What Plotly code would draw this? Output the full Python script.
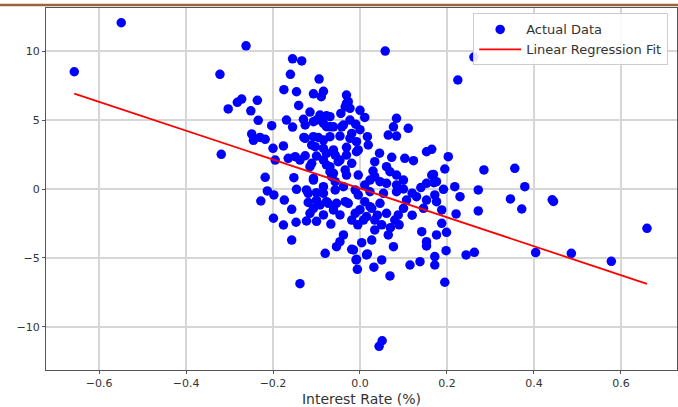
import plotly.graph_objects as go
import numpy as np

# Scatter data (Interest Rate %, response)
x_vals = [-0.657, -0.549, -0.322, -0.319, -0.303, -0.282, -0.272, -0.262, -0.251, -0.249, -0.245, -0.236, -0.234, -0.23, -0.228,
          -0.218, -0.218, -0.213, -0.203, -0.2, -0.199, -0.198, -0.195, -0.176, -0.176, -0.175, -0.174, -0.169, -0.165, -0.16,
          -0.157, -0.157, -0.152, -0.155, -0.155, -0.149, -0.147, -0.146, -0.146, -0.141, -0.138, -0.138, -0.134, -0.13, -0.129,
          -0.126, -0.126, -0.126, -0.123, -0.123, -0.119, -0.119, -0.115, -0.115, -0.115, -0.111, -0.111, -0.107, -0.107, -0.107,
          -0.107, -0.107, -0.107, -0.103, -0.1, -0.1, -0.1, -0.1, -0.1, -0.096, -0.094, -0.092, -0.092, -0.089, -0.084,
          -0.084, -0.084, -0.084, -0.084, -0.084, -0.084, -0.084, -0.08, -0.077, -0.077, -0.077, -0.077, -0.077, -0.073, -0.069,
          -0.069, -0.069, -0.069, -0.069, -0.067, -0.065, -0.061, -0.061, -0.061, -0.061, -0.057, -0.057, -0.057, -0.054, -0.054,
          -0.05, -0.046, -0.046, -0.046, -0.046, -0.044, -0.042, -0.038, -0.038, -0.038, -0.034, -0.034, -0.034, -0.031, -0.031,
          -0.031, -0.031, -0.031, -0.027, -0.027, -0.023, -0.023, -0.023, -0.019, -0.019, -0.019, -0.019, -0.015, -0.011, -0.011,
          -0.009, -0.008, -0.008, -0.008, -0.006, -0.004, -0.004, -0.004, 0.004, 0.008, 0.011, 0.011, 0.011, 0.015, 0.017,
          0.017, 0.019, 0.023, 0.023, 0.023, 0.027, 0.027, 0.032, 0.034, 0.034, 0.034, 0.034, 0.044, 0.046, 0.046,
          0.05, 0.051, 0.054, 0.058, 0.061, 0.061, 0.061, 0.065, 0.065, 0.069, 0.069, 0.073, 0.077, 0.077, 0.08,
          0.084, 0.084, 0.084, 0.084, 0.084, 0.088, 0.1, 0.103, 0.107, 0.111, 0.115, 0.123, 0.13, 0.138, 0.142,
          0.146, 0.153, 0.153, 0.153, 0.153, 0.153, 0.165, 0.165, 0.169, 0.17, 0.172, 0.172, 0.172, 0.176, 0.176,
          0.176, 0.188, 0.188, 0.192, 0.195, 0.195, 0.198, 0.199, 0.203, 0.218, 0.221, 0.225, 0.23, 0.244, 0.262,
          0.263, 0.272, 0.272, 0.285, 0.346, 0.356, 0.372, 0.379, 0.404, 0.442, 0.445, 0.486, 0.578, 0.66,
          0.0, 0.015, -0.005, 0.04, 0.05, 0.07, 0.09, 0.1, 0.12, 0.12, 0.14, 0.1, 0.03, 0.045, 0.0, -0.01, 0.0]
y_vals = [8.5, 12.05, 8.31, 2.51, 5.8, 6.28, 6.52, 10.38, 5.67, 3.99, 3.53, 6.43, 4.98, 3.74, -0.87,
          3.6, 0.85, -0.14, 4.59, 2.95, -2.12, -0.43, 2.1, 3.12, -2.61, 7.2, -0.8, 5.0, 2.22, 8.31,
          -3.7, -1.47, 0.82, 9.44, 4.49, 2.34, -2.41, 7.05, -0.02, 6.06, -6.86, 2.1, 9.28, 5.05, 3.74,
          2.41, 4.64, 3.67, -0.07, -2.32, -0.97, -0.31, 5.58, 1.62, -1.76, 1.86, 3.19, 6.9, 3.79, 0.77,
          -1.4, 4.88, 0.65, 3.07, 5.0, 2.39, -0.27, -2.34, -0.8, 3.74, 7.97, -1.16, 5.36, 6.69, 7.08,
          3.55, -0.31, 4.76, 2.95, 2.1, 0.17, -1.88, -4.66, 4.52, 2.58, 5.31, -0.92, 1.74, -1.04, 5.24,
          4.51, 3.79, 1.62, 1.25, -2.54, 0.89, -1.52, 2.83, 1.14, 4.51, -0.07, 2.46, 0.53, -4.18, -1.04,
          1.98, 3.84, 2.1, -3.82, -1.88, 5.48, 4.51, -3.33, 4.64, 0.17, 5.96, 1.38, -0.92, 6.81, 6.21,
          3.02, 1.01, 2.46, 6.33, -1.04, 5.85, 5.0, 3.67, 1.86, -2.25, -4.37, 4.03, -4.42, -0.07, -1.76,
          -5.14, 3.43, -5.1, 2.7, -5.82, 2.83, 1.01, -0.43, -3.89, -2.25, 5.19, -0.92, 0.29, -4.78, 3.79,
          -4.71, 3.19, 0.65, -0.2, -1.28, -1.4, -3.7, -5.67, 1.98, 0.89, -2.25, -2.97, -11.4, -1.04, 0.53,
          -5.14, -11.0, -0.31, 10.0, 1.62, 0.41, -1.76, 3.91, -3.33, 1.25, -6.3, 2.3, 4.51, -4.18, -2.25,
          5.12, 3.84, 1.01, 0.29, -0.2, -1.88, 0.65, 2.22, -0.8, 4.4, -5.51, 2.05, -0.56, -5.27, -3.09,
          -1.4, 2.7, 0.41, -0.8, -3.82, -4.13, 2.88, 1.01, 1.06, 0.46, -0.43, -4.9, -5.51, 0.53, -0.92,
          -3.33, -1.52, -2.49, -0.02, 1.45, -6.76, -4.47, -3.14, 2.34, 0.17, -1.81, 7.9, -0.56, -4.78, 9.56,
          -4.59, -0.07, -1.59, 1.38, -0.72, 1.5, -1.45, 0.17, -4.61, -0.78, -0.9, -4.66, -5.24, -2.85,
          -1.5, -2.0, -2.6, -1.9, -2.6, -2.8, -2.6, -1.4, -1.9, -0.3, 0.1, 0.0, 1.3, 2.6, 4.3, 4.7, 5.7]

# Fitted regression line
fit_slope = -10.47
fit_intercept = 0.04

x_ticks = [-0.6, -0.4, -0.2, 0.0, 0.2, 0.4, 0.6]
y_ticks = [-10, -5, 0, 5, 10]

fit_x = np.array([min(x_vals), max(x_vals)])
fit_y = fit_slope * fit_x + fit_intercept

fig = go.Figure()
fig.add_trace(go.Scatter(
    x=x_vals, y=y_vals, mode="markers", name="Actual Data",
    marker=dict(color="#0000ff", size=9.5, line=dict(width=0)),
))
fig.add_trace(go.Scatter(
    x=fit_x, y=fit_y, mode="lines", name="Linear Regression Fit",
    line=dict(color="#ff0000", width=1.8),
))

axis_common = dict(
    showgrid=True, gridcolor="#d6d6d6", gridwidth=1.6,
    showline=True, linecolor="#555555", linewidth=1.3, mirror=True,
    ticks="outside", ticklen=3, tickcolor="#555555", tickwidth=1,
    zeroline=False,
    tickfont=dict(family="DejaVu Sans", size=11, color="#333333"),
)

W, H = 678, 407
L, R, T, B = 46, 1, 8, 37
fig.update_layout(
    width=W, height=H,
    margin=dict(l=L, r=R, t=T, b=B),
    paper_bgcolor="white", plot_bgcolor="white",
    showlegend=True,
    legend=dict(
        x=0.986, y=0.985, xanchor="right", yanchor="top",
        bgcolor="rgba(255,255,255,0.9)", bordercolor="#cccccc", borderwidth=1,
        font=dict(family="DejaVu Sans", size=13, color="#333333"),
        tracegroupgap=0, itemwidth=42,
    ),
    xaxis=dict(range=[-0.722, 0.729], tickvals=x_ticks, tickformat=".1f",
               title=dict(text="Interest Rate (%)", font=dict(family="DejaVu Sans", size=14, color="#333333"), standoff=5),
               **axis_common),
    yaxis=dict(range=[-13.12, 13.12], tickvals=y_ticks, **axis_common),
    shapes=[dict(type="line", xref="paper", yref="paper",
                 x0=-L / (W - L - R), x1=1 + R / (W - L - R),
                 y0=1 + 3 / (H - T - B), y1=1 + 3 / (H - T - B),
                 line=dict(color="#9a6440", width=2.5))],
)

fig.write_html("out.html", config={"displayModeBar": False},
               post_script="document.body.style.margin='0px';document.documentElement.style.margin='0px';")
